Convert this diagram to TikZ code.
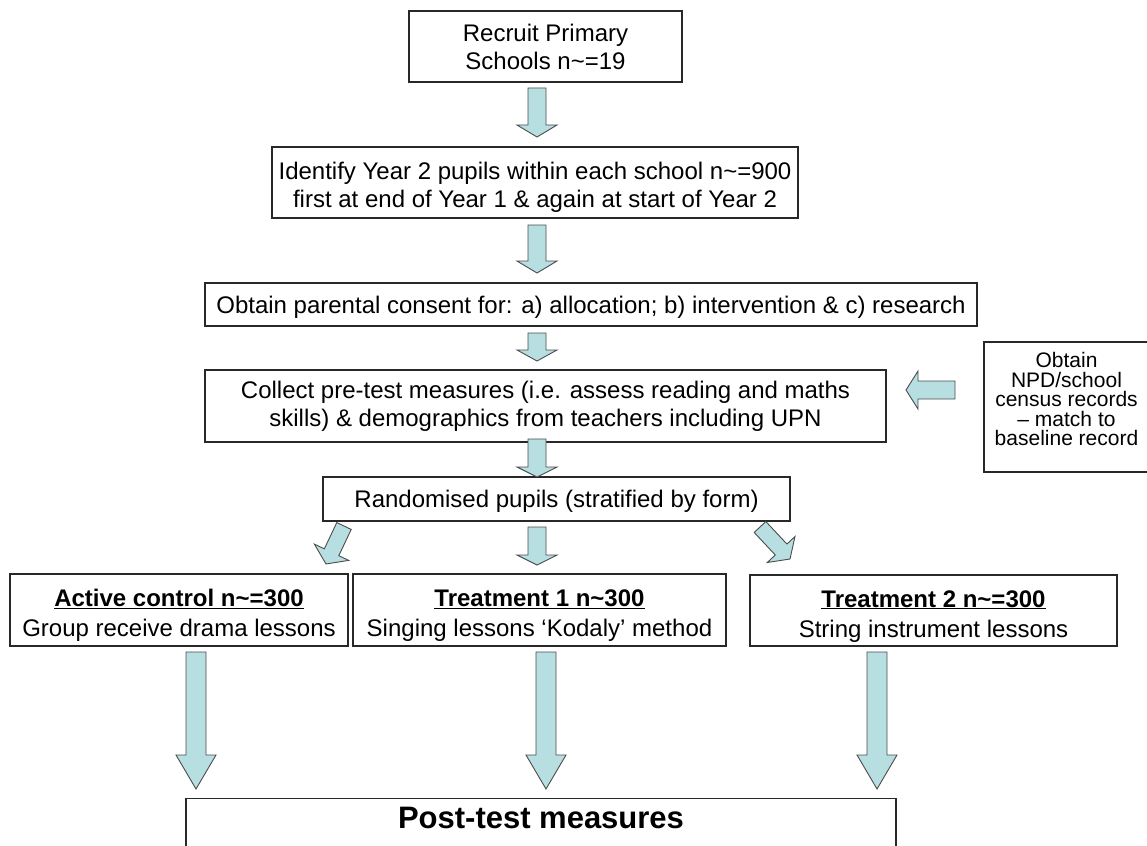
\documentclass[tikz,border=0pt]{standalone}
\usepackage{fontspec}
\setmainfont{Liberation Sans}
\usetikzlibrary{calc}
\definecolor{arrowfill}{RGB}{183,222,225}
\definecolor{boxline}{RGB}{40,40,40}
% #1 tail, #2 tip, #3 shaft half width, #4 head half width, #5 head length
\newcommand\blockarrow[5]{%
  \coordinate (ba-h) at ($(#2)!#5!(#1)$);
  \draw[barrow] ($(#1)!#3!90:(#2)$) -- ($(ba-h)!#3!90:(#2)$) -- ($(ba-h)!#4!90:(#2)$) -- (#2)
    -- ($(ba-h)!#4!270:(#2)$) -- ($(ba-h)!#3!270:(#2)$) -- ($(#1)!#3!270:(#2)$) -- cycle;}
\begin{document}
\begin{tikzpicture}[x=1pt,y=-1pt,
  box/.style={draw=boxline, line width=1.2pt, fill=white, inner sep=0pt, align=center,
    font=\fontsize{24}{28}\selectfont},
  grp/.style={box, font=\fontsize{24}{30}\selectfont},
  barrow/.style={draw=black!70, line width=0.9pt, fill=arrowfill, line join=miter}]
\useasboundingbox (0,0) rectangle (1147,845);

\node[box, minimum width=273pt, minimum height=71pt] (recruit) at (545.5,46.5)
  {Recruit Primary\\Schools n\textasciitilde=19};
\node[box, minimum width=526pt, minimum height=71pt] (identify) at (535,182.5)
  {\rule{0pt}{27pt}Identify Year 2 pupils within each school n\textasciitilde=900\\first at end of Year 1 \& again at start of Year 2};
\node[box, minimum width=772pt, minimum height=43pt] (consent) at (591,304.5)
  {\rule{0pt}{22pt}Obtain parental consent for: a) allocation; b) intervention \& c) research};
\node[box, minimum width=681pt, minimum height=72pt] (pretest) at (545.5,406)
  {Collect pre-test measures (i.e. assess reading and maths\\skills) \& demographics from teachers including UPN};
\node[box, minimum width=467pt, minimum height=44pt] (random) at (556.5,499)
  {\rule{0pt}{22pt}Randomised pupils (stratified by form)};
\node[box, minimum width=165pt, minimum height=130pt, font=\fontsize{21}{19.5}\selectfont] (npd) at (1066.5,407)
  {Obtain\\NPD/school\\census records\\– match to\\baseline record\rule[-16pt]{0pt}{0pt}};

\node[grp, minimum width=338pt, minimum height=72pt] (active) at (179,610)
  {\rule{0pt}{28pt}\underline{\textbf{Active control n\textasciitilde=300}}\\Group receive drama lessons};
\node[grp, minimum width=373pt, minimum height=72pt] (treat1) at (539.5,610)
  {\rule{0pt}{28pt}\underline{\textbf{Treatment 1 n\textasciitilde300}}\\Singing lessons ‘Kodaly’ method};
\node[grp, minimum width=367pt, minimum height=71pt] (treat2) at (933.5,610.5)
  {\rule{0pt}{28pt}\underline{\textbf{Treatment 2 n\textasciitilde=300}}\\String instrument lessons};

\node[box, anchor=north, minimum width=710pt, inner ysep=9pt, font=\fontsize{31}{36}\selectfont\bfseries] (post) at (541,798)
  {Post-test measures\\[30pt]\mbox{}};

% arrows
\coordinate (a1t) at (537,88);  \coordinate (a1h) at (537,137);
\coordinate (a2t) at (537,225); \coordinate (a2h) at (537,273);
\coordinate (a3t) at (537,333); \coordinate (a3h) at (537,361);
\coordinate (a4t) at (537,439); \coordinate (a4h) at (537,477);
\coordinate (a5t) at (537,527); \coordinate (a5h) at (537,565);
\coordinate (dlt) at (344,526); \coordinate (dlh) at (326,564);
\coordinate (drt) at (760,527); \coordinate (drh) at (790,559);
\coordinate (sdt) at (955,390); \coordinate (sdh) at (906,390);
\coordinate (l1t) at (196,652); \coordinate (l1h) at (196,789);
\coordinate (l2t) at (546,652); \coordinate (l2h) at (546,789);
\coordinate (l3t) at (877,652); \coordinate (l3h) at (877,789);

\blockarrow{a1t}{a1h}{9pt}{20pt}{12pt}
\blockarrow{a2t}{a2h}{9pt}{20pt}{12pt}
\blockarrow{a3t}{a3h}{9pt}{20pt}{11pt}
\blockarrow{a4t}{a4h}{9pt}{20pt}{10pt}
\blockarrow{a5t}{a5h}{9pt}{20pt}{10pt}
\blockarrow{dlt}{dlh}{8pt}{19pt}{13pt}
\blockarrow{drt}{drh}{8pt}{19pt}{13pt}
\blockarrow{sdt}{sdh}{9pt}{19pt}{12pt}
\blockarrow{l1t}{l1h}{10pt}{20pt}{34pt}
\blockarrow{l2t}{l2h}{10pt}{20pt}{34pt}
\blockarrow{l3t}{l3h}{10pt}{20pt}{34pt}
\end{tikzpicture}
\end{document}
